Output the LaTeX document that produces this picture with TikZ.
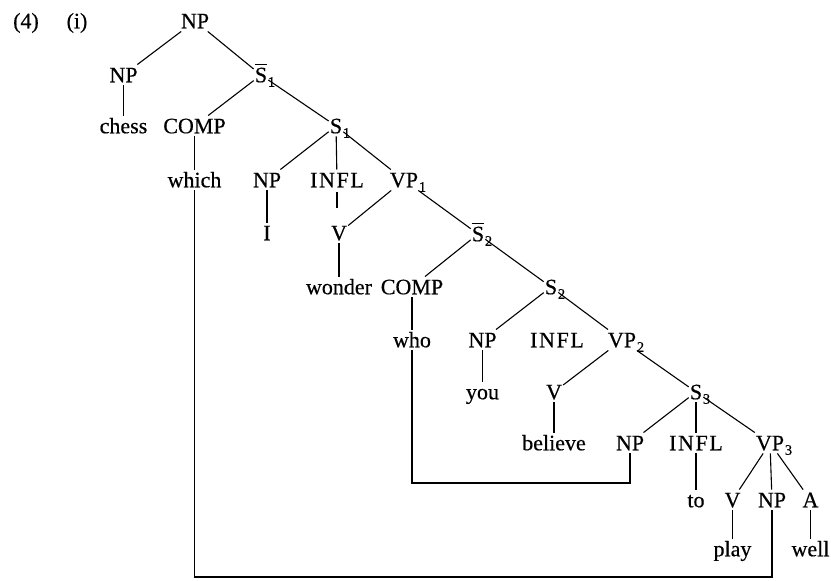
\documentclass[tikz,border=0pt]{standalone}
\usepackage{fontspec}
\setmainfont{Liberation Serif}[UprightFeatures={FakeBold=0.5}]
\newcommand\sbarx{\leavevmode\vbox{\hrule height 1.1pt\kern 2.4pt\hbox{S}}}
\newcommand\subx[1]{\rlap{\kern0.8pt\raisebox{-4.5pt}{\fontsize{14.5}{15}\selectfont #1}}}
\newcommand\inflx{I\kern1.6pt N\kern1.6pt F\kern1.6pt L}
\tikzset{
  lab/.style={font=\fontsize{22}{25}\selectfont, inner xsep=1pt, inner ysep=3pt,
              text height=14.5pt, text depth=0pt, anchor=center},
  edge/.style={line width=1.1pt},
}
\begin{document}
\begin{tikzpicture}[x=1pt,y=-1pt, every node/.style={lab}]
\useasboundingbox (0,0) rectangle (831,581);
% labels
\node (ex) at (26,21) {(4)};
\node (ei) at (77,21) {(i)};
% row 0
\node (np0) at (195,21) {NP};
% row 1
\node (np1) at (123.5,75) {NP};
\node (sb1) at (261,75) {\sbarx\subx{1}};
% row 2
\node (chess) at (123.5,126) {chess};
\node (comp1) at (194.5,126) {COMP};
\node (s1) at (336,126) {S\subx{1}};
% row 3
\node (which) at (194.5,180) {which};
\node (np2) at (267,180) {NP};
\node (infl1) at (337,180) {\inflx};
\node (vp1) at (404,180) {VP\subx{1}};
% row 4
\node (i) at (267,233) {I};
\node (v1) at (339,233) {V};
\node (sb2) at (478,234) {\sbarx\subx{2}};
% row 5
\node (wonder) at (339,287) {wonder};
\node (comp2) at (412,287) {COMP};
\node (s2) at (551,287) {S\subx{2}};
% row 6
\node (who) at (412,340) {who};
\node (np3) at (482.5,340) {NP};
\node (infl2) at (557,340) {\inflx};
\node (vp2) at (622,340) {VP\subx{2}};
% row 7
\node (you) at (482.5,392) {you};
\node (v2) at (554,392) {V};
\node (s3) at (696,392) {S\subx{3}};
% row 8
\node (believe) at (554,443) {believe};
\node (np4) at (630,443) {NP};
\node (infl3) at (696,443) {\inflx};
\node (vp3) at (770,443) {VP\subx{3}};
% row 9
\node (to) at (696,500) {to};
\node (v3) at (732.5,500) {V};
\node (np5) at (772,500) {NP};
\node (a) at (810.5,500) {A};
% row 10
\node (play) at (732.5,549) {play};
\node (well) at (810.5,549) {well};
% helper coordinates
\coordinate (stub) at (337,208);
\coordinate (mid) at (520,483);
\coordinate (bot) at (480,577);
% edges
\draw[edge] (np0) -- (np1);
\draw[edge] (np0) -- (sb1);
\draw[edge] (np1) -- (chess);
\draw[edge] (sb1) -- (comp1);
\draw[edge] (sb1) -- (s1);
\draw[edge] (comp1) -- (which);
\draw[edge] (s1) -- (np2);
\draw[edge] (s1) -- (infl1);
\draw[edge] (s1) -- (vp1);
\draw[edge] (np2) -- (i);
\draw[edge] ([yshift=-2pt]infl1.south) -- (stub);
\draw[edge] (vp1) -- (v1);
\draw[edge] (vp1) -- (sb2);
\draw[edge] (v1) -- (wonder);
\draw[edge] (sb2) -- (comp2);
\draw[edge] (sb2) -- (s2);
\draw[edge] (comp2) -- (who);
\draw[edge] (s2) -- (np3);
\draw[edge] (s2) -- (vp2);
\draw[edge] (np3) -- (you);
\draw[edge] (vp2) -- (v2);
\draw[edge] (vp2) -- (s3);
\draw[edge] (v2) -- (believe);
\draw[edge] (s3) -- (np4);
\draw[edge] (s3) -- (infl3);
\draw[edge] (s3) -- (vp3);
\draw[edge] (infl3) -- (to);
\draw[edge] (vp3) -- (v3);
\draw[edge] (vp3) -- (np5);
\draw[edge] (vp3) -- (a);
\draw[edge] (v3) -- (play);
\draw[edge] (a) -- (well);
\draw[edge] (who.south) |- (mid) -| (np4.south);
\draw[edge] (which.south) |- (bot) -| (np5.south);
\end{tikzpicture}
\end{document}
